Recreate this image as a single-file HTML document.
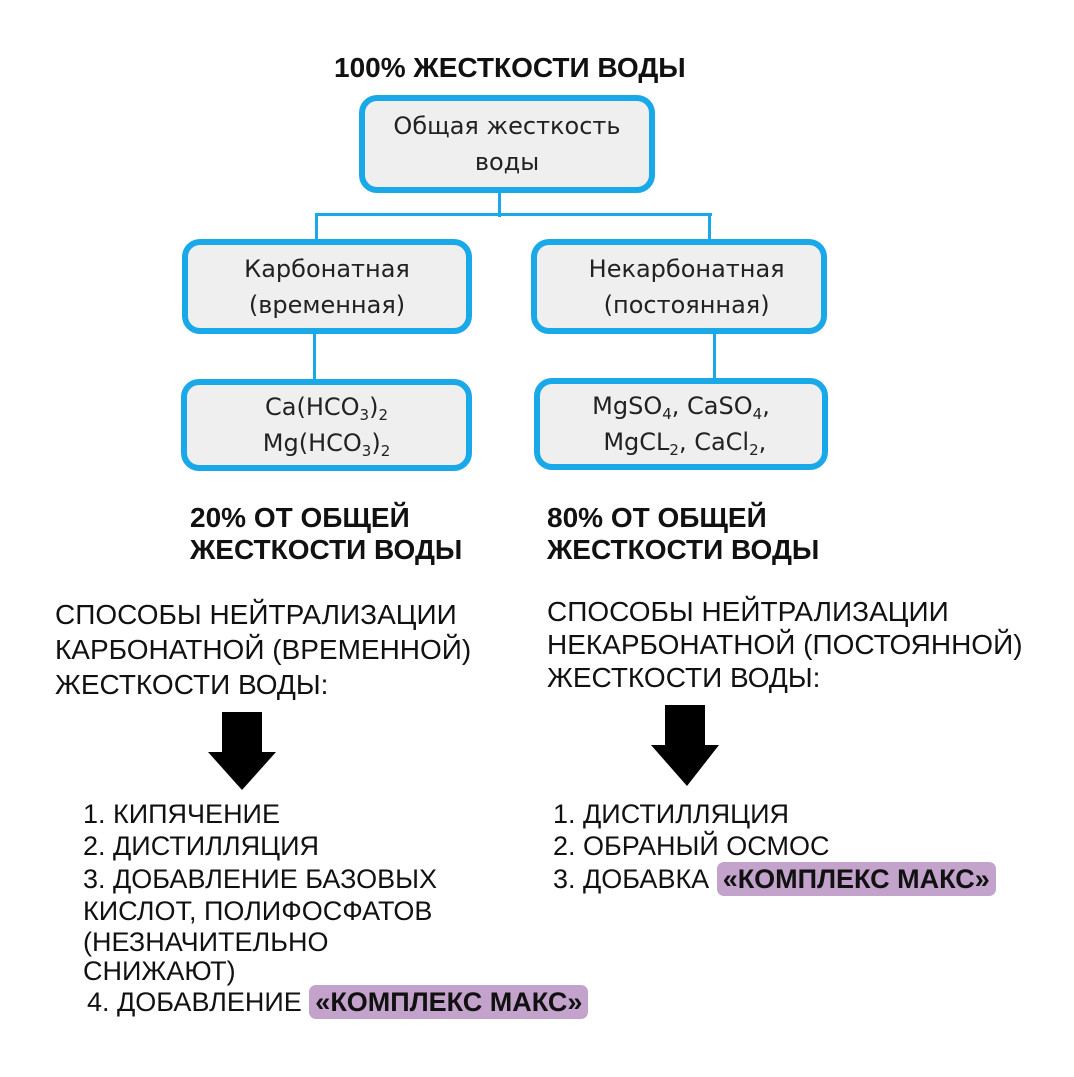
<!DOCTYPE html>
<html><head><meta charset="utf-8"><style>
body{margin:0;width:1074px;height:1077px;background:#fff;position:relative;overflow:hidden;font-family:"Liberation Sans",sans-serif;color:#111}
.t{position:absolute;white-space:nowrap;line-height:1}
.b{font-weight:bold}
.box{position:absolute;box-sizing:border-box;border:6px solid #1aa9e8;border-radius:18px;background:#efefef;text-align:center;font-family:"DejaVu Sans","Liberation Sans",sans-serif;font-size:24px;color:#222;display:flex;flex-direction:column;justify-content:center;line-height:36px}
.l{position:absolute;background:#1aa9e8}
.hl{background:#c3a2cc;border-radius:7px;padding:2px 6px;font-weight:bold}
sub{font-size:15px;vertical-align:-5px;line-height:0}
</style></head><body>
<div class="t b" style="left:334px;top:54px;font-size:28px">100% ЖЕСТКОСТИ ВОДЫ</div>

<div class="l" style="left:498px;top:190px;width:3px;height:27px"></div>
<div class="l" style="left:315px;top:213px;width:397px;height:3px"></div>
<div class="l" style="left:315px;top:213px;width:3px;height:30px"></div>
<div class="l" style="left:708px;top:213px;width:3px;height:30px"></div>
<div class="l" style="left:313px;top:330px;width:3px;height:53px"></div>
<div class="l" style="left:713px;top:330px;width:3px;height:53px"></div>

<div class="box" style="left:359px;top:95px;width:296px;height:98px"><div>Общая жесткость</div><div>воды</div></div>
<div class="box" style="left:182px;top:239px;width:290px;height:95px"><div>Карбонатная</div><div>(временная)</div></div>
<div class="box" style="left:531px;top:239px;width:296px;height:95px"><div>&nbsp;&nbsp;Некарбонатная</div><div>&nbsp;&nbsp;(постоянная)</div></div>
<div class="box" style="left:181px;top:379px;width:291px;height:92px"><div>Ca(HCO<sub>3</sub>)<sub>2</sub></div><div>Mg(HCO<sub>3</sub>)<sub>2</sub></div></div>
<div class="box" style="left:534px;top:378px;width:294px;height:92px"><div>MgSO<sub>4</sub>, CaSO<sub>4</sub>,</div><div>&nbsp;MgCL<sub>2</sub>, CaCl<sub>2</sub>,</div></div>

<div class="t b" style="left:190px;top:504px;font-size:28px">20% ОТ ОБЩЕЙ</div>
<div class="t b" style="left:190px;top:536px;font-size:28px">ЖЕСТКОСТИ ВОДЫ</div>
<div class="t b" style="left:547px;top:504px;font-size:28px">80% ОТ ОБЩЕЙ</div>
<div class="t b" style="left:547px;top:536px;font-size:28px">ЖЕСТКОСТИ ВОДЫ</div>

<div class="t" style="left:55px;top:601px;font-size:28px">СПОСОБЫ НЕЙТРАЛИЗАЦИИ</div>
<div class="t" style="left:55px;top:636px;font-size:28px">КАРБОНАТНОЙ (ВРЕМЕННОЙ)</div>
<div class="t" style="left:55px;top:671px;font-size:28px">ЖЕСТКОСТИ ВОДЫ:</div>
<div class="t" style="left:547px;top:598px;font-size:28px">СПОСОБЫ НЕЙТРАЛИЗАЦИИ</div>
<div class="t" style="left:547px;top:631px;font-size:28px">НЕКАРБОНАТНОЙ (ПОСТОЯННОЙ)</div>
<div class="t" style="left:547px;top:664px;font-size:28px">ЖЕСТКОСТИ ВОДЫ:</div>

<svg style="position:absolute;left:0;top:0" width="1074" height="1077">
<polygon points="222,712 262,712 262,752 276,752 242,790 208,752 222,752" fill="#000"/>
<polygon points="665,705 705,705 705,745 719,745 687,786 651,745 665,745" fill="#000"/>
</svg>

<div class="t" style="left:83px;top:801px;font-size:27px">1. КИПЯЧЕНИЕ</div>
<div class="t" style="left:83px;top:833px;font-size:27px">2. ДИСТИЛЛЯЦИЯ</div>
<div class="t" style="left:83px;top:866px;font-size:27px">3. ДОБАВЛЕНИЕ БАЗОВЫХ</div>
<div class="t" style="left:83px;top:898px;font-size:27px">КИСЛОТ, ПОЛИФОСФАТОВ</div>
<div class="t" style="left:83px;top:929px;font-size:27px">(НЕЗНАЧИТЕЛЬНО</div>
<div class="t" style="left:83px;top:958px;font-size:27px">СНИЖАЮТ)</div>
<div class="t" style="left:87px;top:989px;font-size:27px">4. ДОБАВЛЕНИЕ <span class="hl">«КОМПЛЕКС МАКС»</span></div>

<div class="t" style="left:553px;top:801px;font-size:27px">1. ДИСТИЛЛЯЦИЯ</div>
<div class="t" style="left:553px;top:833px;font-size:27px">2. ОБРАНЫЙ ОСМОС</div>
<div class="t" style="left:553px;top:866px;font-size:27px">3. ДОБАВКА <span class="hl">«КОМПЛЕКС МАКС»</span></div>
</body></html>
